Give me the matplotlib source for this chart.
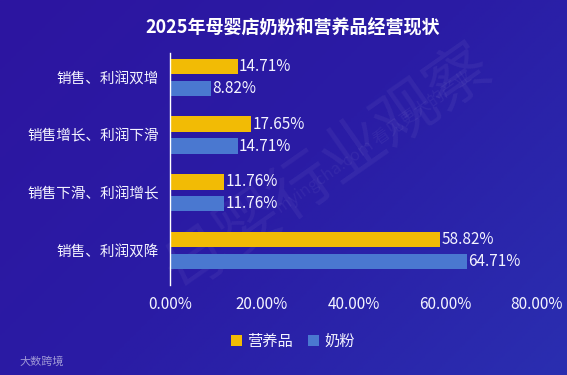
import numpy as np
import matplotlib.pyplot as plt
from matplotlib.colors import LinearSegmentedColormap

plt.rcParams['font.family'] = ['Noto Sans CJK SC', 'DejaVu Sans']

categories = ['销售、利润双增', '销售增长、利润下滑', '销售下滑、利润增长', '销售、利润双降']
nutrition = [14.71, 17.65, 11.76, 58.82]
milk_powder = [8.82, 14.71, 11.76, 64.71]
series_names = ['营养品', '奶粉']
xticks = [0, 20, 40, 60, 80]

yellow = '#f2bb05'
blue = '#4a78d0'
white = '#f4f4ff'

fig = plt.figure(figsize=(5.67, 3.75), dpi=100)

# gradient background
bg = fig.add_axes([0, 0, 1, 1], zorder=-10)
gx, gy = np.meshgrid(np.linspace(0, 1, 200), np.linspace(0, 1, 200))
grad = (gx * 0.6 + gy * 0.4)
cmap = LinearSegmentedColormap.from_list('bg', ['#2d15a0', '#2a1ca5', '#2a2eb0'])
bg.imshow(grad, cmap=cmap, aspect='auto', extent=[0, 1, 0, 1], origin='upper')
bg.axis('off')

# faint watermarks
bg.text(0.58, 0.55, '母婴行业观察', fontsize=46, color='white', alpha=0.05,
        rotation=35, ha='center', va='center', transform=bg.transAxes)
bg.text(0.66, 0.62, 'myingcha.com 看见更大的产业', fontsize=12, color='white', alpha=0.05,
        rotation=35, ha='center', va='center', transform=bg.transAxes)
bg.text(0.035, 0.035, '大数跨境', fontsize=8, color='white', alpha=0.55,
        ha='left', va='center', transform=bg.transAxes)

ax = fig.add_axes([0.300, 0.240, 0.647, 0.619])
ax.set_facecolor('none')

y = np.arange(len(categories))
h = 0.27
off = 0.19
b1 = ax.barh(y - off, nutrition, height=h, color=yellow, label=series_names[0])
b2 = ax.barh(y + off, milk_powder, height=h, color=blue, label=series_names[1])

for bars, vals in [(b1, nutrition), (b2, milk_powder)]:
    for bar, v in zip(bars, vals):
        ax.text(v + 0.3, bar.get_y() + bar.get_height() / 2, f'{v:.2f}%',
                color=white, fontsize=11, va='center', ha='left')

ax.set_xlim(0, 80)
ax.set_ylim(3.6, -0.425)
ax.set_yticks(y)
ax.set_yticklabels(categories, fontsize=10.5, color=white)
ax.set_xticks(xticks)
ax.set_xticklabels([f'{t:.2f}%' for t in xticks], fontsize=11, color=white)
ax.tick_params(axis='both', length=0)
ax.tick_params(axis='y', pad=8)
ax.tick_params(axis='x', pad=8)
for s in ['top', 'right', 'bottom']:
    ax.spines[s].set_visible(False)
ax.spines['left'].set_color('white')
ax.spines['left'].set_linewidth(1)

fig.text(0.517, 0.925, '2025年母婴店奶粉和营养品经营现状', fontsize=13, fontweight='bold',
         color='white', ha='center', va='center')

leg = fig.legend(handles=[b1, b2], loc='center', bbox_to_anchor=(0.517, 0.09), ncol=2,
                 frameon=False, fontsize=11, handlelength=0.7, handleheight=0.7,
                 handletextpad=0.35, columnspacing=1.0)
for t in leg.get_texts():
    t.set_color(white)

fig.savefig('out.png', dpi=100)
